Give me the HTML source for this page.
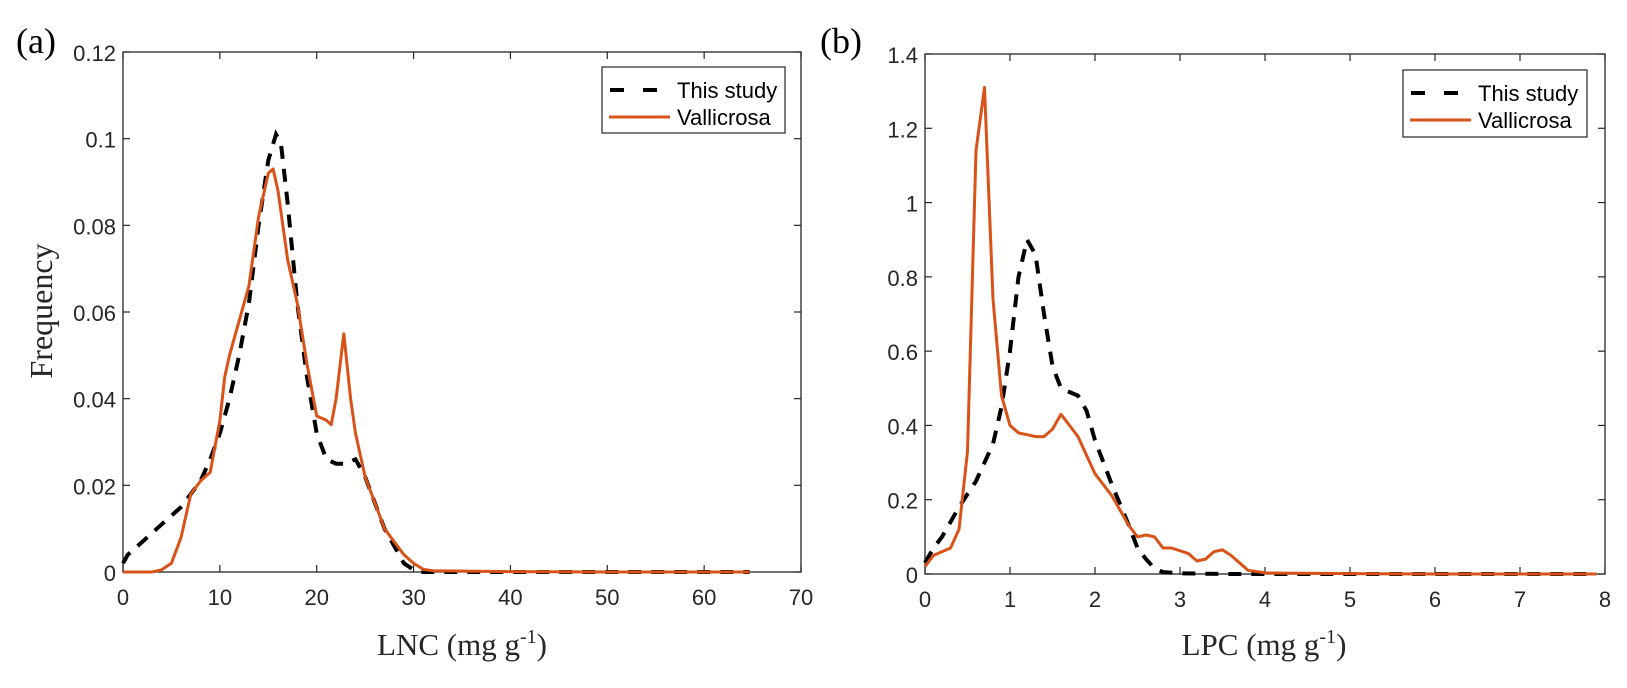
<!DOCTYPE html>
<html><head><meta charset="utf-8">
<style>
body{margin:0;background:#fff;}
svg text{font-family:"Liberation Sans",Arial,sans-serif;}
.serif{font-family:"Liberation Serif","Times New Roman",serif !important;}
</style></head>
<body>
<svg id="chart" width="1627" height="683" xmlns="http://www.w3.org/2000/svg"></svg>
<script>
// Panel a data (LNC)
const aStudyX = [0,0.5,1,2,3,4,5,6,7,8,9,10,11,12,13,14,15,15.8,16.3,17,18,19,20,21,22,23,24,25,26,27,28,29,30,31,35,40,45,50,55,60,64.7];
const aStudyY = [0.002,0.004,0.005,0.007,0.009,0.011,0.013,0.015,0.018,0.021,0.026,0.032,0.040,0.050,0.062,0.080,0.095,0.101,0.099,0.085,0.062,0.045,0.032,0.026,0.025,0.025,0.026,0.022,0.016,0.010,0.006,0.002,0.0005,0,0,0,0,0,0,0,0];
const aValX = [0,3,4,5,6,7,8,9,10,10.5,11,12,13,14,15,15.5,16,17,18,19,20,21,21.5,22,22.8,23.5,24,25,26,27,28,29,30,31,32,40,50,64.7];
const aValY = [0,0,0.0005,0.002,0.008,0.018,0.021,0.023,0.035,0.045,0.05,0.058,0.066,0.082,0.092,0.093,0.088,0.072,0.062,0.048,0.036,0.035,0.034,0.040,0.055,0.040,0.032,0.022,0.016,0.010,0.007,0.004,0.002,0.0006,0.0003,0.0001,0,0];
const aXTicks = [0,10,20,30,40,50,60,70];
const aYTicks = [0,0.02,0.04,0.06,0.08,0.1,0.12];
const aYTickLabels = ["0","0.02","0.04","0.06","0.08","0.1","0.12"];
// Panel b data (LPC)
const bStudyX = [0,0.1,0.2,0.4,0.6,0.8,0.9,1.0,1.1,1.2,1.3,1.4,1.5,1.6,1.7,1.8,1.9,2.0,2.2,2.4,2.5,2.6,2.7,2.8,3.0,3.5,4,5,6,7,7.9];
const bStudyY = [0.03,0.07,0.1,0.18,0.25,0.35,0.45,0.6,0.8,0.9,0.86,0.7,0.56,0.5,0.49,0.48,0.44,0.36,0.24,0.13,0.07,0.04,0.015,0.005,0.002,0,0,0,0,0,0];
const bValX = [0,0.1,0.3,0.4,0.5,0.6,0.7,0.8,0.9,1.0,1.1,1.2,1.3,1.4,1.5,1.6,1.7,1.8,2.0,2.2,2.4,2.5,2.6,2.7,2.8,2.9,3.1,3.2,3.3,3.4,3.5,3.6,3.8,4.0,5,6,7,7.9];
const bValY = [0.02,0.05,0.07,0.12,0.33,1.14,1.31,0.74,0.48,0.40,0.38,0.375,0.37,0.37,0.39,0.43,0.40,0.37,0.27,0.21,0.13,0.10,0.105,0.10,0.07,0.07,0.055,0.035,0.04,0.06,0.065,0.05,0.01,0.003,0.001,0,0,0];
const bXTicks = [0,1,2,3,4,5,6,7,8];
const bYTicks = [0,0.2,0.4,0.6,0.8,1,1.2,1.4];
const bYTickLabels = ["0","0.2","0.4","0.6","0.8","1","1.2","1.4"];

const NS="http://www.w3.org/2000/svg";
const svg=document.getElementById('chart');
function mk(tag,attrs,parent){const e=document.createElementNS(NS,tag);for(const k in attrs)e.setAttribute(k,attrs[k]);(parent||svg).appendChild(e);return e;}

function panel(cfg){
  const g=mk('g',{});
  
  
  const sx=v=>cfg.x0+(v-cfg.xmin)/(cfg.xmax-cfg.xmin)*(cfg.x1-cfg.x0);
  const sy=v=>cfg.y0-(v-cfg.ymin)/(cfg.ymax-cfg.ymin)*(cfg.y0-cfg.y1);
  const box=mk('rect',{x:cfg.x0,y:cfg.y1,width:cfg.x1-cfg.x0,height:cfg.y0-cfg.y1,fill:'none',stroke:'#262626','stroke-width':1.3},g);
  
  
  cfg.xt.forEach(t=>{
    const x=sx(t);
    mk('line',{x1:x,x2:x,y1:cfg.y0,y2:cfg.y0-7,stroke:'#262626','stroke-width':1.2},g);
    mk('line',{x1:x,x2:x,y1:cfg.y1,y2:cfg.y1+7,stroke:'#262626','stroke-width':1.2},g);
    const tx=mk('text',{x:x,y:cfg.y0+33,'text-anchor':'middle','font-size':22,fill:'#262626'},g);
    tx.textContent=String(t);
    
    
  });
  cfg.yt.forEach((t,i)=>{
    const y=sy(t);
    mk('line',{x1:cfg.x0,x2:cfg.x0+7,y1:y,y2:y,stroke:'#262626','stroke-width':1.2},g);
    mk('line',{x1:cfg.x1,x2:cfg.x1-7,y1:y,y2:y,stroke:'#262626','stroke-width':1.2},g);
    const tx=mk('text',{x:cfg.x0-7,y:y+9,'text-anchor':'end','font-size':22,fill:'#262626'},g);
    tx.textContent=cfg.ytl[i];
    
    
  });
  const path=(xs,ys)=>xs.map((x,i)=>(i?'L':'M')+sx(x).toFixed(1)+','+sy(ys[i]).toFixed(1)).join(' ');
  const s1=mk('path',{d:path(cfg.sx,cfg.sy),fill:'none',stroke:'#000','stroke-width':4,'stroke-dasharray':'13 10'},g);
  
  
  const s2=mk('path',{d:path(cfg.vx,cfg.vy),fill:'none',stroke:'#D95319','stroke-width':3,'stroke-linejoin':'round'},g);
  
  
  const L=cfg.leg;
  const lg=mk('g',{},g);
  
  
  mk('rect',{x:L[0],y:L[1],width:L[2]-L[0],height:L[3]-L[1],fill:'#fff',stroke:'#262626','stroke-width':1.2},lg);
  mk('line',{x1:L[0]+8,x2:L[0]+68,y1:L[1]+23,y2:L[1]+23,stroke:'#000','stroke-width':4,'stroke-dasharray':'14 19'},lg);
  mk('line',{x1:L[0]+7,x2:L[0]+68,y1:L[1]+50,y2:L[1]+50,stroke:'#D95319','stroke-width':3},lg);
  const t1=mk('text',{x:L[0]+75,y:L[1]+31,'font-size':22,fill:'#000'},lg);t1.textContent='This study';
  
  
  const t2=mk('text',{x:L[0]+75,y:L[1]+58,'font-size':22,fill:'#000'},lg);t2.textContent='Vallicrosa';
  
  
  const xl=mk('text',{x:cfg.xlx,y:655,'text-anchor':'middle','font-size':31,fill:'#262626','class':'serif'},g);
  xl.innerHTML=cfg.xlabel+' (mg g<tspan dy="-12" font-size="20">-1</tspan><tspan dy="12">)</tspan>';
  
  
  const pl=mk('text',{x:cfg.plx,y:53,'font-size':36,fill:'#000','class':'serif'},g);
  pl.textContent=cfg.plabel;
  
  
}
panel({name:'panel-a-lnc',x0:123,x1:801,y0:572,y1:52,xmin:0,xmax:70,ymin:0,ymax:0.12,xt:aXTicks,yt:aYTicks,ytl:aYTickLabels,
  sx:aStudyX,sy:aStudyY,vx:aValX,vy:aValY,leg:[602,67,785,133],xlabel:'LNC',xlx:462,plabel:'(a)',plx:16});
panel({name:'panel-b-lpc',x0:925,x1:1605,y0:574,y1:54,xmin:0,xmax:8,ymin:0,ymax:1.4,xt:bXTicks,yt:bYTicks,ytl:bYTickLabels,
  sx:bStudyX,sy:bStudyY,vx:bValX,vy:bValY,leg:[1403,70,1587,137],xlabel:'LPC',xlx:1264,plabel:'(b)',plx:820});
const yl=mk('text',{x:0,y:0,'text-anchor':'middle','font-size':32,fill:'#262626','class':'serif',transform:'translate(52,311) rotate(-90)'});
yl.textContent='Frequency';


</script>
</body></html>
